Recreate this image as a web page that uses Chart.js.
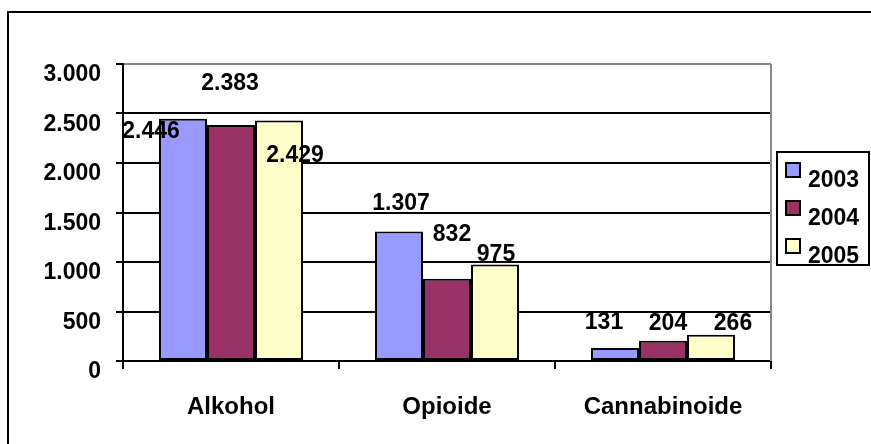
<!DOCTYPE html>
<html>
<head>
<meta charset="utf-8">
<script src="https://cdn.jsdelivr.net/npm/chart.js@4/dist/chart.umd.min.js"></script>
<style>
  html, body { margin: 0; padding: 0; background: #fff; }
  #wrap { width: 871px; height: 444px; }
</style>
</head>
<body>
<div id="wrap"><canvas id="chart" width="871" height="444"></canvas></div>
<script>
// Cases per substance group and year
const categories = ['Alkohol', 'Opioide', 'Cannabinoide'];
const years = ['2003', '2004', '2005'];
const values2003 = [2446, 1307, 131];
const values2004 = [2383, 832, 204];
const values2005 = [2429, 975, 266];
const yTicks = [0, 500, 1000, 1500, 2000, 2500, 3000];

const colors = ['#9999ff', '#993366', '#ffffcc'];
// value labels sit a bit off their bars: [dx, dy] from the bar's top centre
const labelShift = [
  [[-32, 13], [2, -28], [-11, -25]],
  [[-1, -41], [5, -44], [5, -17]],
  [[16, 35], [1, -10], [22, -11]]
];
const FONT = '"Liberation Sans", Arial, sans-serif';

function dots(v) {
  return String(v).replace(/\B(?=(\d{3})+(?!\d))/g, '.');
}

const decor = {
  id: 'decor',
  beforeDraw(chart) {
    const ctx = chart.ctx;
    ctx.save();
    ctx.fillStyle = '#fff';
    ctx.fillRect(0, 0, chart.width, chart.height);
    // frame round the whole chart (only left/top fall inside the canvas)
    ctx.strokeStyle = '#000';
    ctx.lineWidth = 2;
    ctx.beginPath();
    ctx.moveTo(8, chart.height);
    ctx.lineTo(8, 12);
    ctx.lineTo(chart.width, 12);
    ctx.stroke();
    ctx.restore();
  },
  afterDatasetsDraw(chart) {
    const ctx = chart.ctx;
    ctx.save();
    ctx.font = 'bold 23px ' + FONT;
    ctx.fillStyle = '#000';
    ctx.textAlign = 'center';
    ctx.textBaseline = 'middle';
    chart.data.datasets.forEach((ds, i) => {
      chart.getDatasetMeta(i).data.forEach((bar, j) => {
        const [dx, dy] = labelShift[i][j];
        ctx.fillText(dots(ds.data[j]), bar.x + dx, bar.y + dy);
      });
    });
    ctx.restore();
  },
  afterDraw(chart) {
    const ctx = chart.ctx;
    const a = chart.chartArea;
    ctx.save();
    // grey right edge of the plot area
    ctx.strokeStyle = '#888';
    ctx.lineWidth = 2;
    ctx.beginPath();
    ctx.moveTo(a.right, a.top);
    ctx.lineTo(a.right, a.bottom);
    ctx.stroke();

    // legend box
    ctx.strokeStyle = '#000';
    ctx.fillStyle = '#fff';
    ctx.fillRect(777, 152, 92, 113);
    ctx.strokeRect(777, 152, 92, 113);
    ctx.font = 'bold 23px ' + FONT;
    ctx.textAlign = 'left';
    ctx.textBaseline = 'alphabetic';
    chart.data.datasets.forEach((ds, i) => {
      const y = 163 + i * 38;
      ctx.fillStyle = ds.backgroundColor;
      ctx.fillRect(786, y, 14, 14);
      ctx.strokeRect(786, y, 14, 14);
      ctx.fillStyle = '#000';
      ctx.fillText(ds.label, 808, y + 24);
    });
    ctx.restore();
  }
};

const seriesValues = [values2003, values2004, values2005];

new Chart(document.getElementById('chart'), {
  type: 'bar',
  data: {
    labels: categories,
    datasets: years.map((y, i) => ({
      label: y,
      data: seriesValues[i],
      backgroundColor: colors[i],
      borderColor: '#000',
      borderWidth: 2,
      borderSkipped: false,
      categoryPercentage: 2 / 3,
      barPercentage: 1
    }))
  },
  options: {
    responsive: false,
    animation: false,
    layout: { padding: { top: 64, right: 100, left: 0, bottom: 0 } },
    plugins: { legend: { display: false }, tooltip: { enabled: false } },
    scales: {
      x: {
        afterFit(scale) { scale.height = 83; },
        grid: { drawOnChartArea: false, drawTicks: true, tickLength: 8, color: '#000', lineWidth: 2, offset: true },
        border: { color: '#000', width: 2 },
        ticks: { color: '#000', padding: 24, font: { family: FONT, size: 24, weight: 'bold' } }
      },
      y: {
        min: 0,
        max: 3000,
        afterFit(scale) { scale.width = 123; },
        afterBuildTicks(scale) { scale.ticks = yTicks.map(v => ({ value: v })); },
        grid: {
          color: c => (c.tick && c.tick.value === 3000 ? '#888' : '#000'),
          tickColor: '#000',
          lineWidth: 2,
          tickLength: 7
        },
        border: { color: '#000', width: 2 },
        ticks: {
          color: '#000',
          padding: 15,
          labelOffset: 11,
          font: { family: FONT, size: 23, weight: 'bold' },
          callback: v => dots(v)
        }
      }
    }
  },
  plugins: [decor]
});
</script>
</body>
</html>
